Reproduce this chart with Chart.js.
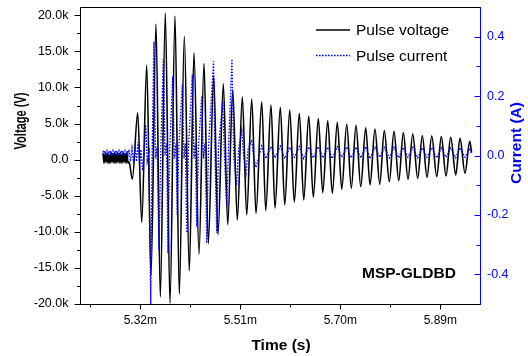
<!DOCTYPE html>
<html>
<head>
<meta charset="utf-8">
<script src="https://cdn.jsdelivr.net/npm/chart.js@4.4.0/dist/chart.umd.min.js"></script>
<style>
  html, body { margin: 0; padding: 0; background: #fff; }
</style>
</head>
<body>
<canvas id="pulseChart" width="528" height="356"></canvas>
<script>
// Data (time in ms, voltage in kV, current in A)
const voltTime = [
  5.2491, 5.2510, 5.2529, 5.2548, 5.2567, 5.2586, 5.2605, 5.2624, 5.2643, 5.2662, 5.2681, 5.2700, 5.2719,
  5.2738, 5.2757, 5.2776, 5.2795, 5.2814, 5.2833, 5.2852, 5.2871, 5.2890, 5.2909, 5.2928, 5.2947, 5.2966,
  5.2985, 5.3048, 5.3151, 5.3227, 5.3322, 5.3403, 5.3498, 5.3580, 5.3675, 5.3764, 5.3859, 5.3941, 5.4036,
  5.4131, 5.4220, 5.4315, 5.4410, 5.4492, 5.4595, 5.4676, 5.4777, 5.4861, 5.4956, 5.5043, 5.5138, 5.5222,
  5.5317, 5.5398, 5.5507, 5.5583, 5.5683, 5.5759, 5.5860, 5.5944, 5.6039, 5.6126, 5.6221, 5.6305, 5.6400,
  5.6487, 5.6582, 5.6666, 5.6761, 5.6848, 5.6943, 5.7027, 5.7122, 5.7209, 5.7298, 5.7388, 5.7483, 5.7564,
  5.7659, 5.7749, 5.7836, 5.7931, 5.8020, 5.8110, 5.8197, 5.8286, 5.8376, 5.8471, 5.8558, 5.8647, 5.8737,
  5.8832, 5.8919, 5.9008, 5.9098, 5.9193, 5.9274, 5.9369, 5.9459, 5.9493
];
const voltValue = [
  0.9, -0.5, 0.8, -0.4, 0.9, -0.5, 0.7, -0.5, 0.9, -0.4, 0.8, -0.5, 0.9,
  -0.5, 0.8, -0.4, 0.9, -0.5, 0.8, -0.5, 0.9, -0.4, 0.8, -0.5, 0.9, -0.5,
  -0.3, -2.7, 6.5, -8.7, 13.1, -16.0, 18.8, -19.0, 20.3, -19.9, 19.9, -18.6, 17.1,
  -15.4, 14.8, -13.1, 13.3, -11.6, 11.6, -10.4, 10.5, -9.0, 9.65, -8.35, 8.7, -7.66,
  8.4, -7.45, 8.03, -7.06, 7.58, -6.73, 7.26, -6.27, 6.88, -5.9, 6.43, -5.58, 6.05,
  -5.2, 5.68, -4.57, 5.4, -4.65, 5.18, -4.1, 4.9, -3.96, 4.76, -3.74, 4.43, -3.5,
  4.25, -3.41, 4.02, -3.05, 3.93, -2.91, 3.74, -2.72, 3.56, -2.58, 3.32, -2.44, 3.28,
  -2.35, 3.19, -2.26, 3.1, -2.12, 2.96, -1.88, 2.55, 1.0
];

const curTime = [
  5.2491, 5.2510, 5.2529, 5.2548, 5.2567, 5.2586, 5.2605, 5.2624, 5.2643, 5.2662, 5.2681, 5.2700, 5.2719,
  5.2738, 5.2757, 5.2776, 5.2795, 5.2814, 5.2833, 5.2852, 5.2871, 5.2890, 5.2909, 5.2928, 5.2947, 5.2966,
  5.2985, 5.3014, 5.3042, 5.3071, 5.3099, 5.3128, 5.3156, 5.3185, 5.3213, 5.3242, 5.3270, 5.3303, 5.3331,
  5.3365, 5.3398, 5.3426, 5.3460, 5.3491, 5.3521, 5.3555, 5.3590, 5.3637, 5.3669, 5.3698, 5.3726, 5.3760,
  5.3816, 5.3846, 5.3878, 5.3901, 5.3935, 5.3998, 5.4030, 5.4055, 5.4082, 5.4116, 5.4188, 5.4220, 5.4245,
  5.4272, 5.4306, 5.4367, 5.4399, 5.4429, 5.4462, 5.4496, 5.4591, 5.4619, 5.4652, 5.4686, 5.4766, 5.4798,
  5.4842, 5.4876, 5.4942, 5.4973, 5.5028, 5.5066, 5.5127, 5.5161, 5.5208, 5.5246, 5.5317, 5.5351, 5.5398,
  5.5507, 5.5583, 5.5683, 5.5759, 5.5860, 5.5944, 5.6039, 5.6126, 5.6221, 5.6305, 5.6400, 5.6487, 5.6582,
  5.6666, 5.6761, 5.6848, 5.6943, 5.7027, 5.7122, 5.7209, 5.7298, 5.7388, 5.7483, 5.7564, 5.7659, 5.7749,
  5.7836, 5.7931, 5.8020, 5.8110, 5.8197, 5.8286, 5.8376, 5.8471, 5.8558, 5.8647, 5.8737, 5.8832, 5.8919,
  5.9008, 5.9098, 5.9193, 5.9274, 5.9369, 5.9459, 5.9493
];
const curValue = [
  0.016, 0.003, 0.016, 0.003, 0.016, 0.003, 0.016, 0.003, 0.016, 0.003, 0.016, 0.003, 0.016,
  0.003, 0.016, 0.003, 0.016, 0.003, 0.016, 0.003, 0.016, 0.003, 0.016, 0.003, 0.016, 0.003,
  0.02, -0.02, 0.025, -0.025, 0.03, -0.02, 0.045, -0.03, 0.02, -0.05, 0.01, 0.103, -0.02,
  0.01, -0.5, 0.02, 0.384, -0.01, 0.03, -0.318, 0.03, 0.325, 0.0, 0.04, -0.33, 0.03,
  0.266, -0.01, 0.04, -0.2, 0.04, 0.238, -0.01, 0.04, -0.26, 0.03, 0.272, -0.01, 0.04,
  -0.24, 0.03, 0.2, -0.01, 0.04, -0.295, 0.03, 0.317, 0.0, -0.26, 0.03, 0.18, 0.0,
  -0.17, 0.03, 0.325, 0.0, -0.1, 0.02, 0.087, 0.0, -0.06, 0.02, 0.053, 0.0, -0.04,
  0.032, -0.01, 0.03, -0.008, 0.031, -0.01, 0.028, -0.006, 0.03, -0.01, 0.029, -0.008, 0.03,
  -0.008, 0.028, -0.01, 0.03, -0.006, 0.029, -0.008, 0.028, -0.008, 0.03, -0.01, 0.028, -0.006,
  0.027, -0.008, 0.028, -0.008, 0.027, -0.006, 0.028, -0.008, 0.026, -0.006, 0.027, -0.008,
  0.026, -0.006, 0.025, -0.008, 0.026, -0.006, 0.025, 0.005
];

// Axis ticks
const xMajorTicks = [5.32, 5.51, 5.70, 5.89];
const xMinorTicks = [5.225, 5.415, 5.605, 5.795];
const voltTicks = [-20, -15, -10, -5, 0, 5, 10, 15, 20];
const voltMinorTicks = [-17.5, -12.5, -7.5, -2.5, 2.5, 7.5, 12.5, 17.5];
const curTicks = [-0.4, -0.2, 0.0, 0.2, 0.4];
const curMinorTicks = [-0.3, -0.1, 0.1, 0.3];

const FONT = '"Liberation Sans", Arial, Helvetica, sans-serif';
const BLUE = '#0000ff';

// keep the plot box fixed: no label overhang padding
function fixBox(size) {
  return s => {
    if (s.isHorizontal()) s.height = size; else s.width = size;
    s.paddingTop = 0; s.paddingBottom = 0; s.paddingLeft = 0; s.paddingRight = 0;
  };
}

// frame, tick marks, titles, legend and label drawn on top
const decorations = {
  id: 'decorations',
  afterDraw(chart) {
    const { ctx, chartArea: a, scales } = chart;
    const L = a.left - 0.5, R = a.right - 0.5, T = a.top + 0.5, B = a.bottom + 0.5;
    ctx.save();
    ctx.lineWidth = 1;

    // top / left / bottom in black
    ctx.strokeStyle = '#000';
    ctx.beginPath();
    ctx.moveTo(R, T); ctx.lineTo(L, T); ctx.lineTo(L, B); ctx.lineTo(R, B);
    // left ticks (outward)
    voltTicks.forEach(v => {
      const y = Math.round(scales.y.getPixelForValue(v)) + 0.5;
      ctx.moveTo(L - 6, y); ctx.lineTo(L, y);
    });
    voltMinorTicks.forEach(v => {
      const y = Math.round(scales.y.getPixelForValue(v)) + 0.5;
      ctx.moveTo(L - 3.5, y); ctx.lineTo(L, y);
    });
    // bottom ticks (outward)
    xMajorTicks.forEach(v => {
      const x = Math.round(scales.x.getPixelForValue(v)) + 0.5;
      ctx.moveTo(x, B); ctx.lineTo(x, B + 5);
    });
    xMinorTicks.forEach(v => {
      const x = Math.round(scales.x.getPixelForValue(v)) + 0.5;
      ctx.moveTo(x, B); ctx.lineTo(x, B + 3);
    });
    ctx.stroke();

    // right axis in blue, ticks inward
    ctx.strokeStyle = BLUE;
    ctx.beginPath();
    ctx.moveTo(R, a.top); ctx.lineTo(R, a.bottom + 1);
    curTicks.forEach(v => {
      const y = Math.round(scales.y2.getPixelForValue(v)) + 0.5;
      ctx.moveTo(R - 6, y); ctx.lineTo(R, y);
    });
    curMinorTicks.forEach(v => {
      const y = Math.round(scales.y2.getPixelForValue(v)) + 0.5;
      ctx.moveTo(R - 4, y); ctx.lineTo(R, y);
    });
    ctx.stroke();

    // axis titles
    ctx.font = 'bold 15.5px ' + FONT;
    ctx.fillStyle = '#000';
    ctx.textAlign = 'center';
    ctx.textBaseline = 'alphabetic';
    ctx.fillText('Time (s)', 281, 350);

    ctx.save();
    ctx.translate(22, 121);
    ctx.rotate(-Math.PI / 2);
    ctx.font = 'bold 16px ' + FONT;
    const vw = ctx.measureText('Voltage (V)').width;
    ctx.scale(57 / vw, 1);
    ctx.textBaseline = 'middle';
    ctx.fillText('Voltage (V)', 0, 0);
    ctx.restore();

    ctx.save();
    ctx.translate(517, 143);
    ctx.rotate(-Math.PI / 2);
    ctx.fillStyle = BLUE;
    ctx.textBaseline = 'middle';
    ctx.fillText('Current (A)', 0, 0);
    ctx.restore();

    // sample label
    ctx.textAlign = 'left';
    ctx.fillText('MSP-GLDBD', 362, 278);

    // legend
    ctx.font = '15.5px ' + FONT;
    ctx.strokeStyle = '#000';
    ctx.lineWidth = 1.3;
    ctx.beginPath();
    ctx.moveTo(316, 30); ctx.lineTo(350, 30);
    ctx.stroke();
    ctx.fillText('Pulse voltage', 356, 35);

    ctx.strokeStyle = BLUE;
    ctx.lineWidth = 1.3;
    ctx.setLineDash([1.6, 1.4]);
    ctx.beginPath();
    ctx.moveTo(316, 55.5); ctx.lineTo(350, 55.5);
    ctx.stroke();
    ctx.setLineDash([]);
    ctx.fillText('Pulse current', 356, 60.5);

    ctx.restore();
  }
};

const ctx = document.getElementById('pulseChart').getContext('2d');
const pulseChart = new Chart(ctx, {
  type: 'line',
  data: {
    datasets: [
      {
        label: 'Pulse voltage',
        data: voltTime.map((t, i) => ({ x: t, y: voltValue[i] })),
        yAxisID: 'y',
        borderColor: '#000',
        borderWidth: 1.6,
        pointRadius: 0,
        cubicInterpolationMode: 'monotone',
        order: 1
      },
      {
        label: 'Pulse current',
        data: curTime.map((t, i) => ({ x: t, y: curValue[i] })),
        yAxisID: 'y2',
        borderColor: BLUE,
        borderWidth: 1.3,
        borderDash: [1.6, 1.4],
        pointRadius: 0,
        tension: 0,
        order: 0
      }
    ]
  },
  plugins: [decorations],
  options: {
    responsive: false,
    animation: false,
    devicePixelRatio: 1,
    layout: { padding: { top: 7, left: 0, right: 0, bottom: 0 } },
    plugins: {
      legend: { display: false },
      tooltip: { enabled: false }
    },
    scales: {
      x: {
        type: 'linear',
        min: 5.2073,
        max: 5.9673,
        afterBuildTicks: s => { s.ticks = xMajorTicks.map(v => ({ value: v })); },
        afterFit: fixBox(52),
        grid: { display: false, drawTicks: false },
        border: { display: false },
        ticks: {
          callback: v => v.toFixed(2) + 'm',
          color: '#000',
          font: { family: FONT, size: 12 },
          padding: 9,
          maxRotation: 0,
          autoSkip: false
        }
      },
      y: {
        position: 'left',
        min: -20,
        max: 21.15,
        afterBuildTicks: s => { s.ticks = voltTicks.map(v => ({ value: v })); },
        afterFit: fixBox(81),
        grid: { display: false, drawTicks: false },
        border: { display: false },
        ticks: {
          callback: v => v === 0 ? '0.0' : v.toFixed(1) + 'k',
          color: '#000',
          font: { family: FONT, size: 12.5 },
          padding: 12.5
        }
      },
      y2: {
        position: 'right',
        min: -0.5,
        max: 0.5,
        afterBuildTicks: s => { s.ticks = curTicks.map(v => ({ value: v })); },
        afterFit: fixBox(47),
        grid: { display: false, drawTicks: false },
        border: { display: false },
        ticks: {
          callback: v => v.toFixed(1),
          color: BLUE,
          font: { family: FONT, size: 12.5 },
          padding: 6
        }
      }
    }
  }
});
</script>
</body>
</html>
